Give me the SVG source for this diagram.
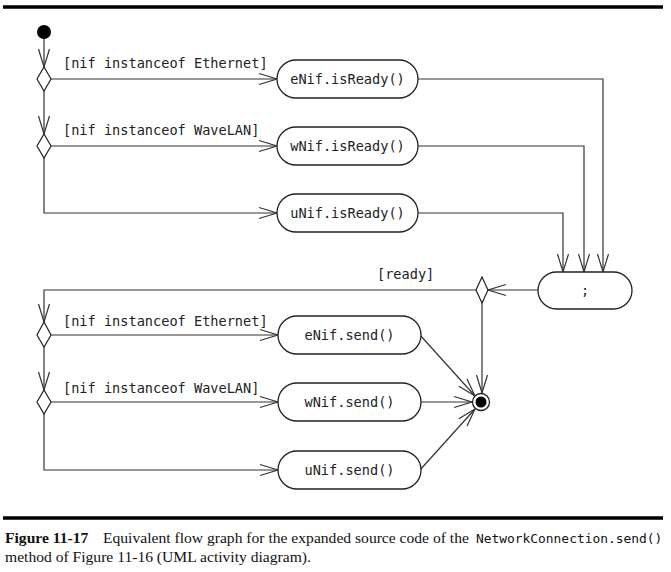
<svg xmlns="http://www.w3.org/2000/svg" width="671" height="572" viewBox="0 0 671 572">
<style>
.bg{fill:#fff}
.rule{stroke:#000;stroke-width:3.5}
.node{fill:#fff;stroke:#222;stroke-width:1.3}
.dia{fill:#fff;stroke:#222;stroke-width:1.2}
.mono{font-family:"DejaVu Sans Mono","Liberation Mono",monospace;font-size:13.6px;fill:#222}
.c{text-anchor:middle}
.conn{fill:none;stroke:#333;stroke-width:1.2}
.cap{font-family:"Liberation Serif","Times New Roman",serif;font-size:15.6px;fill:#111}
.capm{font-family:"DejaVu Sans Mono","Liberation Mono",monospace;font-size:12.9px;fill:#111}
</style>
<defs>
<marker id="arr" markerUnits="userSpaceOnUse" markerWidth="20" markerHeight="13" refX="18" refY="6" orient="auto" overflow="visible">
<path d="M0,0.5 L18,6 L0,11.5" fill="none" stroke="#333" stroke-width="1.2"/>
</marker>
</defs>
<rect class="bg" x="0" y="0" width="671" height="572"/>
<line class="rule" x1="3" y1="7" x2="663" y2="7"/>

<g id="connectors">
<path class="conn" d="M44,39 L44,67" marker-end="url(#arr)"/>
<path class="conn" d="M51,79 L277,79" marker-end="url(#arr)"/>
<path class="conn" d="M44,91 L44,134" marker-end="url(#arr)"/>
<path class="conn" d="M51,146 L277,146" marker-end="url(#arr)"/>
<path class="conn" d="M44,158 L44,213 L277,213" marker-end="url(#arr)"/>
<path class="conn" d="M418,79 L603,79 L603,272" marker-end="url(#arr)"/>
<path class="conn" d="M418,146 L584,146 L584,272" marker-end="url(#arr)"/>
<path class="conn" d="M418,213 L563,213 L563,272" marker-end="url(#arr)"/>
<path class="conn" d="M538,290 L488,290" marker-end="url(#arr)"/>
<path class="conn" d="M476,290 L44,290 L44,322" marker-end="url(#arr)"/>
<path class="conn" d="M51,335 L278,335" marker-end="url(#arr)"/>
<path class="conn" d="M44,347 L44,390" marker-end="url(#arr)"/>
<path class="conn" d="M51,402 L278,402" marker-end="url(#arr)"/>
<path class="conn" d="M44,414 L44,470 L278,470" marker-end="url(#arr)"/>
<path class="conn" d="M482,303 L482,393" marker-end="url(#arr)"/>
<path class="conn" d="M420,335 L475,396" marker-end="url(#arr)"/>
<path class="conn" d="M421,402 L472,402" marker-end="url(#arr)"/>
<path class="conn" d="M420,470 L475,409" marker-end="url(#arr)"/>
<text class="mono" x="63" y="68">[nif instanceof Ethernet]</text>
<text class="mono" x="63" y="135">[nif instanceof WaveLAN]</text>
<text class="mono" x="377" y="279">[ready]</text>
<text class="mono" x="63" y="326">[nif instanceof Ethernet]</text>
<text class="mono" x="63" y="393">[nif instanceof WaveLAN]</text>
</g>

<g id="start"><circle cx="44" cy="32" r="7" fill="#000"/></g>
<g id="decision1"><path class="dia" d="M44,67 L51,79 L44,91 L37,79 Z"/></g>
<g id="decision2"><path class="dia" d="M44,134 L51,146 L44,158 L37,146 Z"/></g>
<g id="eNifReady"><rect class="node" x="277" y="60" width="141" height="38" rx="19"/><text class="mono c" x="347.5" y="84">eNif.isReady()</text></g>
<g id="wNifReady"><rect class="node" x="277" y="127" width="141" height="38" rx="19"/><text class="mono c" x="347.5" y="151">wNif.isReady()</text></g>
<g id="uNifReady"><rect class="node" x="277" y="194" width="141" height="38" rx="19"/><text class="mono c" x="347.5" y="218">uNif.isReady()</text></g>
<g id="join"><rect class="node" x="538" y="272" width="94" height="37" rx="18.5"/><text class="mono c" x="585" y="295">;</text></g>
<g id="decision3"><path class="dia" d="M482,277 L488,290 L482,303 L476,290 Z"/></g>
<g id="decision4"><path class="dia" d="M44,322 L51,335 L44,347 L37,335 Z"/></g>
<g id="decision5"><path class="dia" d="M44,390 L51,402 L44,414 L37,402 Z"/></g>
<g id="eNifSend"><rect class="node" x="278" y="316" width="143" height="38" rx="19"/><text class="mono c" x="349.5" y="340">eNif.send()</text></g>
<g id="wNifSend"><rect class="node" x="278" y="383" width="143" height="38" rx="19"/><text class="mono c" x="349.5" y="407">wNif.send()</text></g>
<g id="uNifSend"><rect class="node" x="278" y="451" width="143" height="38" rx="19"/><text class="mono c" x="349.5" y="475">uNif.send()</text></g>
<g id="final"><circle cx="481" cy="402" r="8.5" fill="#fff" stroke="#222" stroke-width="1.3"/><circle cx="481" cy="402" r="5.5" fill="#000"/></g>

<line class="rule" x1="3" y1="518" x2="663" y2="518"/>
<text class="cap" x="5" y="543"><tspan font-weight="bold">Figure 11-17</tspan><tspan x="103">Equivalent flow graph for the expanded source code of the </tspan><tspan class="capm" x="476">NetworkConnection.send()</tspan></text>
<text class="cap" x="5" y="562">method of Figure 11-16 (UML activity diagram).</text>
</svg>
